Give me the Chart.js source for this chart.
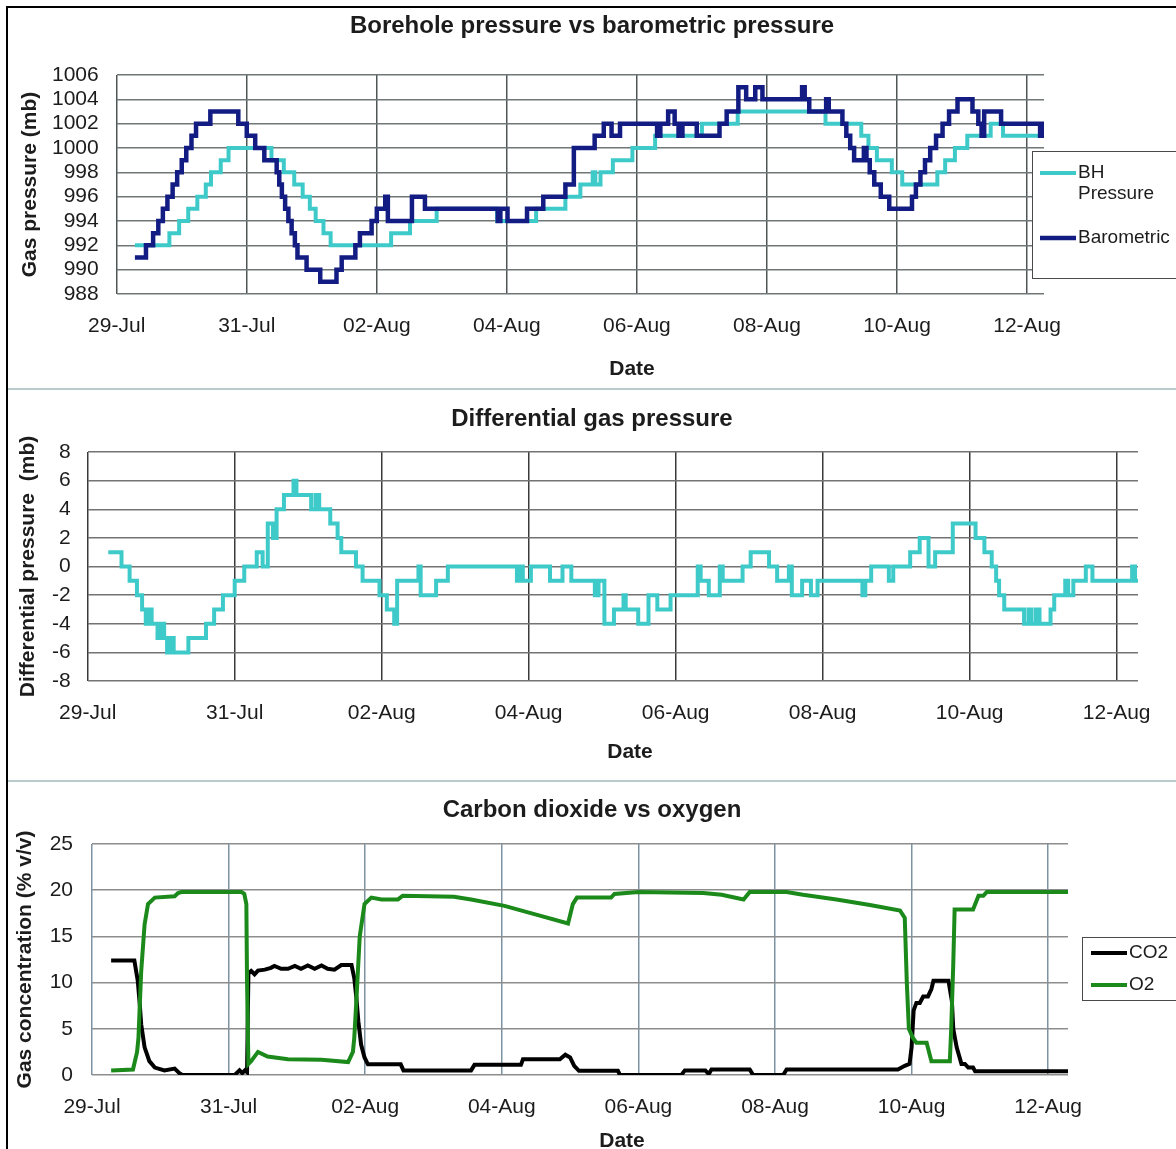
<!DOCTYPE html>
<html>
<head>
<meta charset="utf-8">
<title>Borehole gas monitoring</title>
<script src="https://cdn.jsdelivr.net/npm/chart.js@4.4.1/dist/chart.umd.min.js"></script>
<style>
  html,body{margin:0;padding:0;background:#fff;}
  body{width:1176px;height:1149px;position:relative;overflow:hidden;}
  .frame{position:absolute;left:6px;top:6px;width:1170px;height:1143px;border-left:2px solid #000;border-top:2px solid #000;}
  .sep{position:absolute;left:8px;width:1168px;height:0;border-top:2px solid #b9cbcb;}
  .panel{position:absolute;left:8px;width:1168px;}
</style>
</head>
<body>
<div class="frame"></div>
<div class="panel" style="top:8px;height:381px"><canvas id="c1"></canvas></div>
<div class="sep" style="top:388px"></div>
<div class="panel" style="top:390px;height:390px"><canvas id="c2"></canvas></div>
<div class="sep" style="top:780px"></div>
<div class="panel" style="top:782px;height:367px"><canvas id="c3"></canvas></div>
<script>
/* x values are days after 29-Jul 00:00 */
const DATE_TICKS = [0, 2, 4, 6, 8, 10, 12, 14];
const DATE_LABELS = ['29-Jul', '31-Jul', '02-Aug', '04-Aug', '06-Aug', '08-Aug', '10-Aug', '12-Aug'];

// borehole (BH) pressure, mb - value holds from each time until the next
const bhT = [0.28, 0.81, 0.96, 1.1, 1.24, 1.37, 1.45, 1.6, 1.72, 2.38, 2.57, 2.73, 2.86, 2.97, 3.06, 3.18, 3.29,
  4.22, 4.51, 4.92, 5.85, 6.45, 6.9, 7.13, 7.32, 7.36, 7.44, 7.63, 7.93, 8.28, 9.0, 9.55, 10.9, 11.45, 11.56,
  11.69, 11.92, 12.08, 12.62, 12.74, 12.89, 13.08, 13.44, 13.63, 14.26];
const bhP = [992, 993, 994, 995, 996, 997, 998, 999, 1000, 999, 998, 997, 996, 995, 994, 993, 992,
  993, 994, 995, 994, 995, 996, 997, 998, 997, 998, 999, 1000, 1001, 1002, 1003, 1002, 1001, 1000,
  999, 998, 997, 998, 999, 1000, 1001, 1002, 1001, 1001];

// barometric pressure, mb
const baroT = [0.28, 0.45, 0.56, 0.64, 0.71, 0.78, 0.86, 0.93, 1.0, 1.07, 1.15, 1.22, 1.44, 1.87, 2.0, 2.13, 2.27,
  2.46, 2.5, 2.54, 2.59, 2.64, 2.69, 2.74, 2.78, 2.92, 3.13, 3.38, 3.46, 3.67, 3.74, 3.92, 4.0, 4.13, 4.17,
  4.54, 4.74, 5.86, 5.9, 6.01, 6.31, 6.56, 6.9, 7.03, 7.35, 7.49, 7.61, 7.74, 8.31, 8.36, 8.48, 8.58, 8.64,
  8.7, 8.92, 9.27, 9.38, 9.56, 9.68, 9.82, 9.93, 10.54, 10.58, 10.65, 10.91, 10.95, 11.16, 11.22, 11.28,
  11.34, 11.49, 11.53, 11.58, 11.65, 11.75, 11.88, 12.23, 12.29, 12.36, 12.43, 12.51, 12.6, 12.7, 12.8,
  12.93, 13.16, 13.25, 13.3, 13.34, 13.6, 14.2, 14.24, 14.26];
const baroP = [991, 992, 993, 994, 995, 996, 997, 998, 999, 1000, 1001, 1002, 1003, 1002, 1001, 1000, 999,
  998, 997, 996, 995, 994, 993, 992, 991, 990, 989, 990, 991, 992, 993, 994, 995, 996, 994,
  996, 995, 994, 995, 994, 995, 996, 997, 1000, 1001, 1002, 1001, 1002, 1001, 1002, 1003, 1002, 1001,
  1002, 1001, 1002, 1003, 1005, 1004, 1005, 1004, 1005, 1004, 1003, 1004, 1003, 1002, 1001, 1000,
  999, 1000, 999, 998, 997, 996, 995, 996, 997, 998, 999, 1000, 1001, 1002, 1003,
  1004, 1003, 1002, 1001, 1003, 1002, 1001, 1002, 1002];

// differential gas pressure, mb
const diffT = [0.28, 0.46, 0.57, 0.67, 0.74, 0.79, 0.83, 0.87, 0.95, 1.0, 1.04, 1.08, 1.13, 1.17, 1.37, 1.61,
  1.72, 1.84, 2.0, 2.13, 2.3, 2.38, 2.45, 2.52, 2.57, 2.67, 2.8, 2.84, 3.04, 3.1, 3.15, 3.3, 3.4, 3.45,
  3.65, 3.74, 3.97, 4.07, 4.17, 4.21, 4.5, 4.53, 4.74, 4.9, 5.84, 5.88, 5.92, 6.03, 6.29, 6.46, 6.58,
  6.9, 6.95, 7.03, 7.16, 7.29, 7.32, 7.49, 7.63, 7.75, 7.93, 8.3, 8.34, 8.45, 8.6, 8.64, 8.91, 9.02,
  9.27, 9.38, 9.54, 9.58, 9.72, 9.84, 9.93, 10.54, 10.58, 10.66, 10.9, 10.96, 11.19, 11.32, 11.44,
  11.53, 11.77, 12.08, 12.2, 12.3, 12.36, 12.4, 12.47, 12.74, 12.8, 12.84, 12.9, 12.95, 13.1, 13.15,
  13.3, 13.34, 13.41, 13.58, 13.67, 14.21, 14.25, 14.29];
const diffV = [1, 0, -1, -2, -3, -4, -3, -4, -5, -4, -5, -6, -5, -6, -5, -4,
  -3, -2, -1, 0, 1, 0, 3, 2, 4, 5, 6, 5, 4, 5, 4, 3, 2, 1,
  0, -1, -2, -3, -4, -1, 0, -2, -1, 0, -1, 0, -1, 0, -1, 0, -1,
  -2, -1, -4, -3, -2, -3, -4, -2, -3, -2, 0, -1, -2, 0, -1, 0, 1,
  0, -1, 0, -2, -1, -2, -1, -2, -1, 0, -1, 0, 1, 2, 0,
  1, 3, 2, 1, 0, -1, -2, -3, -4, -3, -4, -3, -4, -3, -2,
  -1, -2, -1, 0, -1, 0, -1, -1];

// carbon dioxide, % v/v
const co2T = [0.28, 0.62, 0.67, 0.7, 0.72, 0.77, 0.84, 0.92, 1.06, 1.21, 1.28, 1.32, 2.09, 2.16, 2.2, 2.24, 2.27,
  2.29, 2.33, 2.38, 2.43, 2.53, 2.62, 2.67, 2.77, 2.87, 2.97, 3.06, 3.16, 3.26, 3.36, 3.45, 3.55, 3.65,
  3.77, 3.8, 3.84, 3.87, 3.9, 3.94, 3.99, 4.04, 4.52, 4.56, 5.55, 5.6, 6.28, 6.31, 6.85, 6.93, 7.0, 7.06,
  7.13, 7.7, 7.73, 8.63, 8.68, 8.98, 9.03, 9.07, 9.63, 9.68, 10.12, 10.17, 11.8, 11.9, 11.97, 12.0,
  12.03, 12.07, 12.12, 12.17, 12.24, 12.29, 12.32, 12.54, 12.59, 12.61, 12.66, 12.73, 12.78, 12.83,
  12.9, 12.93, 14.29];
const co2V = [12.4, 12.4, 10.2, 7.6, 5.5, 3.0, 1.5, 0.8, 0.5, 0.7, 0.2, 0, 0, 0.5, 0.2, 0.5, 0.3,
  11.0, 11.25, 10.9, 11.3, 11.4, 11.6, 11.8, 11.5, 11.5, 11.8, 11.5, 11.85, 11.5, 11.85, 11.5, 11.4, 11.9,
  11.9, 11.9, 10.5, 8.4, 5.8, 3.3, 1.9, 1.15, 1.15, 0.5, 0.5, 1.1, 1.1, 1.7, 1.7, 2.2, 1.9, 1.0,
  0.45, 0.45, 0, 0, 0.5, 0.5, 0.1, 0.6, 0.6, 0, 0, 0.6, 0.6, 1.0, 1.2, 3.0,
  7.0, 7.8, 7.8, 8.5, 8.5, 9.3, 10.2, 10.2, 8.0, 5.0, 3.0, 1.2, 1.2, 0.8,
  0.8, 0.4, 0.4];

// oxygen, % v/v
const o2T = [0.28, 0.6, 0.66, 0.68, 0.72, 0.77, 0.82, 0.92, 1.21, 1.26, 1.31, 2.19, 2.23, 2.26, 2.27, 2.29,
  2.33, 2.43, 2.57, 2.87, 3.36, 3.75, 3.82, 3.84, 3.87, 3.92, 3.99, 4.09, 4.24, 4.48, 4.55, 5.3, 5.55,
  6.04, 6.53, 6.97, 7.04, 7.1, 7.6, 7.65, 8.0, 8.95, 9.22, 9.54, 9.63, 10.17, 10.41, 10.9, 11.39, 11.83,
  11.9, 11.93, 11.96, 12.02, 12.07, 12.22, 12.29, 12.56, 12.58, 12.61, 12.63, 12.9, 12.98, 13.05, 13.1, 14.29];
const o2V = [0.5, 0.6, 2.5, 4.0, 11.2, 16.3, 18.5, 19.2, 19.35, 19.7, 19.8, 19.8, 19.6, 18.5, 10.0, 1.2,
  1.5, 2.5, 2.0, 1.7, 1.65, 1.4, 2.5, 4.0, 8.0, 15.0, 18.5, 19.2, 19.0, 19.0, 19.4, 19.3, 19.0,
  18.3, 17.3, 16.4, 18.5, 19.2, 19.2, 19.6, 19.8, 19.7, 19.5, 19.0, 19.8, 19.8, 19.5, 19.0, 18.4, 17.8,
  17.0, 10.0, 5.0, 4.0, 3.5, 3.5, 1.5, 1.5, 5.0, 12.0, 17.9, 17.9, 19.4, 19.4, 19.8, 19.8];

const FONT = '"Liberation Sans", Arial, Helvetica, sans-serif';
const INK = '#1c1c1c';
Chart.defaults.font.family = FONT;
Chart.defaults.color = INK;

function series(t, v){
  return t.map((x, i) => ({x, y: v[i]}));
}

// axis caption and boxed legend, placed like the original sheet
function makeExtras(p){
  return {
    id: 'extras',
    afterDraw(chart){
      const ctx = chart.ctx;
      ctx.save();
      ctx.fillStyle = INK;
      ctx.textAlign = 'center';
      ctx.textBaseline = 'middle';
      ctx.font = 'bold 21px ' + FONT;
      ctx.fillText(p.caption.text, p.caption.x, p.caption.y);

      const lg = p.legend;
      if(lg){
        ctx.fillStyle = '#fff';
        ctx.fillRect(lg.x, lg.y, lg.w, lg.h);
        ctx.strokeStyle = '#4a4a4a';
        ctx.lineWidth = 1;
        ctx.strokeRect(lg.x + .5, lg.y + .5, lg.w, lg.h);
        ctx.font = '19px ' + FONT;
        ctx.textAlign = 'left';
        lg.rows.forEach(r => {
          const ds = chart.data.datasets[r.ds];
          ctx.strokeStyle = ds.borderColor;
          ctx.lineWidth = ds.borderWidth;
          ctx.beginPath();
          ctx.moveTo(lg.sx0, r.y);
          ctx.lineTo(lg.sx1, r.y);
          ctx.stroke();
          ctx.fillStyle = INK;
          r.lines.forEach((s, k) => ctx.fillText(s, lg.tx, r.y + k * 21));
        });
      }
      ctx.restore();
    }
  };
}

function buildPanel(id, p){
  return new Chart(document.getElementById(id), {
    type: 'line',
    data: {datasets: p.datasets},
    options: {
      responsive: true,
      maintainAspectRatio: false,
      animation: false,
      events: [],
      layout: {padding: 0},
      elements: {point: {radius: 0}, line: {tension: 0, borderWidth: 4}},
      plugins: {
        legend: {display: false},
        tooltip: {enabled: false},
        title: {
          display: true,
          text: p.title,
          color: INK,
          font: {size: 24, weight: 'bold'},
          padding: p.titlePad
        }
      },
      scales: {
        x: {
          type: 'linear',
          min: 0,
          max: p.xMax,
          border: {display: false},
          grid: {color: p.vGrid, lineWidth: 1.5, drawTicks: false},
          ticks: {
            autoSkip: false,
            maxRotation: 0,
            padding: 20,
            font: {size: 21},
            color: INK,
            callback: (v, i) => DATE_LABELS[i]
          },
          afterBuildTicks: s => { s.ticks = DATE_TICKS.map(v => ({value: v})); },
          afterFit: s => { s.height = p.xHeight; }
        },
        y: {
          min: p.yMin,
          max: p.yMax,
          border: {display: false},
          grid: {color: p.hGrid, lineWidth: 1.5, drawTicks: false},
          ticks: {
            stepSize: p.yStep,
            autoSkip: false,
            padding: p.yTickPad,
            font: {size: 21},
            color: INK,
            callback: v => String(v)
          },
          title: {
            display: true,
            text: p.yTitle,
            color: INK,
            font: {size: 21, weight: 'bold'},
            padding: {top: p.yTitlePad, bottom: 0}
          },
          afterFit: s => { s.width = p.yWidth; }
        },
        // empty right-hand strip that keeps room for the legend
        side: {
          position: 'right',
          border: {display: false},
          grid: {display: false, drawTicks: false},
          ticks: {display: false},
          afterFit: s => { s.width = p.padRight; }
        }
      }
    },
    plugins: [makeExtras(p)]
  });
}

buildPanel('c1', {
  title: 'Borehole pressure vs barometric pressure',
  titlePad: {top: 3.5, bottom: 34.7},
  yTitle: 'Gas pressure (mb)', yTitlePad: 9.4,
  yMin: 988, yMax: 1006, yStep: 2, yTickPad: 18,
  yWidth: 108.7, xHeight: 95, padRight: 132, xMax: 14.26,
  hGrid: '#6f7777', vGrid: '#4f5656',
  caption: {text: 'Date', x: 624, y: 361},
  legend: {
    x: 1024, y: 143, w: 160, h: 127, sx0: 1032, sx1: 1068, tx: 1070,
    rows: [{ds: 0, y: 165, lines: ['BH', 'Pressure']}, {ds: 1, y: 230, lines: ['Barometric']}]
  },
  datasets: [
    {label: 'BH Pressure', data: series(bhT, bhP), borderColor: '#3fcaca', borderWidth: 4, stepped: true, order: 1},
    {label: 'Barometric', data: series(baroT, baroP), borderColor: '#121c82', borderWidth: 4.5, stepped: true, order: 0}
  ]
});

buildPanel('c2', {
  title: 'Differential gas pressure',
  titlePad: {top: 15, bottom: 18.2},
  yTitle: 'Differential pressure  (mb)', yTitlePad: 8,
  yMin: -8, yMax: 8, yStep: 2, yTickPad: 17,
  yWidth: 79.7, xHeight: 99, padRight: 38, xMax: 14.29,
  hGrid: '#737373', vGrid: '#3a3a3a',
  caption: {text: 'Date', x: 622, y: 362},
  datasets: [
    {label: 'Differential', data: series(diffT, diffV), borderColor: '#3fcaca', borderWidth: 4, stepped: true}
  ]
});

buildPanel('c3', {
  title: 'Carbon dioxide vs oxygen',
  titlePad: {top: 14, bottom: 19.2},
  yTitle: 'Gas concentration (% v/v)', yTitlePad: 5,
  yMin: 0, yMax: 25, yStep: 5, yTickPad: 19,
  yWidth: 84, xHeight: 74, padRight: 108, xMax: 14.29,
  hGrid: '#8d8d8d', vGrid: '#7d93a3',
  caption: {text: 'Date', x: 614, y: 359},
  legend: {
    x: 1074, y: 155, w: 110, h: 63, sx0: 1083, sx1: 1119, tx: 1121,
    rows: [{ds: 0, y: 171, lines: ['CO2']}, {ds: 1, y: 203, lines: ['O2']}]
  },
  datasets: [
    {label: 'CO2', data: series(co2T, co2V), borderColor: '#000000', borderWidth: 4, order: 1},
    {label: 'O2', data: series(o2T, o2V), borderColor: '#1b8a1b', borderWidth: 4, order: 0}
  ]
});
</script>
</body>
</html>
